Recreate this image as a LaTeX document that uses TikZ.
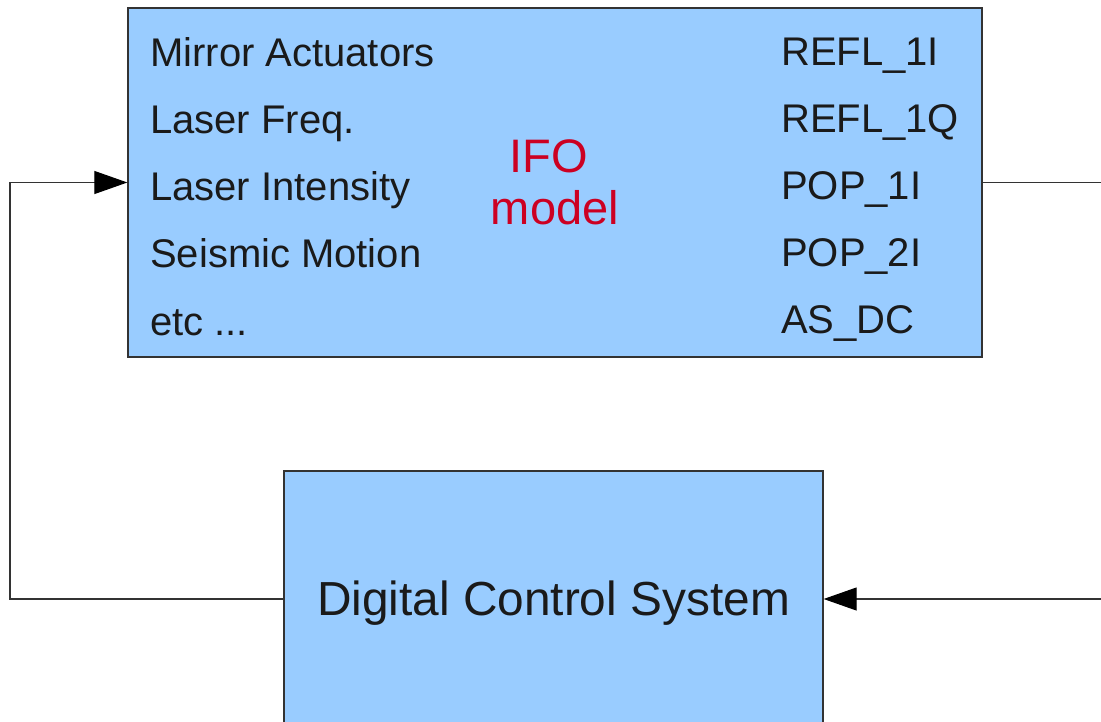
\documentclass[tikz,border=0pt]{standalone}
\usepackage{fontspec}
\setmainfont{Liberation Sans}
\usetikzlibrary{arrows.meta}
\definecolor{boxfill}{HTML}{99CCFF}
\definecolor{boxline}{HTML}{333333}
\definecolor{txt}{HTML}{1A1A1A}
\definecolor{ifored}{HTML}{CC0022}
\begin{document}
\begin{tikzpicture}[x=1pt,y=-1pt,
  blockbox/.style={draw=boxline,fill=boxfill,line width=1.3pt,inner sep=0pt},
  lbl/.style={anchor=base west,inner sep=0pt,text=txt,font=\fontsize{40}{48}\selectfont},
  conn/.style={draw=boxline,line width=1.1pt},
  arr/.style={conn,-{Triangle[length=33pt,width=23pt,color=black]}}]
\useasboundingbox (0,0) rectangle (1101,722);
% boxes
\node[blockbox,minimum width=854pt,minimum height=349pt] (ifo) at (555,182.5) {};
\node[blockbox,minimum width=539pt,minimum height=256pt] (dcs) at (553.5,599) {};
% left labels
\node[lbl] (l1) at (150,67) {Mirror Actuators};
\node[lbl] (l2) at (150,134) {Laser Freq.};
\node[lbl] (l3) at (150,201) {Laser Intensity};
\node[lbl] (l4) at (150,268) {Seismic Motion};
\node[lbl] (l5) at (150,335) {etc ...};
% right labels
\node[lbl] (r1) at (781,66) {REFL\_1I};
\node[lbl] (r2) at (781,133) {REFL\_1Q};
\node[lbl] (r3) at (781,200) {POP\_1I};
\node[lbl] (r4) at (781,267) {POP\_2I};
\node[lbl] (r5) at (781,333) {AS\_DC};
% center labels
\node[anchor=base,inner sep=0pt,text=ifored,font=\fontsize{47}{52}\selectfont] (ifo1) at (549,173) {IFO};
\node[anchor=base,inner sep=0pt,text=ifored,font=\fontsize{47}{52}\selectfont] (ifo2) at (555,225) {model};
\node[anchor=base,inner sep=0pt,text=txt,font=\fontsize{47.8}{52}\selectfont] (dcst) at (553.5,615) {Digital Control System};
% connectors
\coordinate (lc) at (10,599);
\coordinate (ro) at (1101,182.5);
\coordinate (ri) at (1101,599);
\draw[arr] (dcs.west) -- (lc) |- (ifo.west);
\draw[conn] (ifo.east) -- (ro);
\draw[arr] (ri) -- (dcs.east);
\end{tikzpicture}
\end{document}
